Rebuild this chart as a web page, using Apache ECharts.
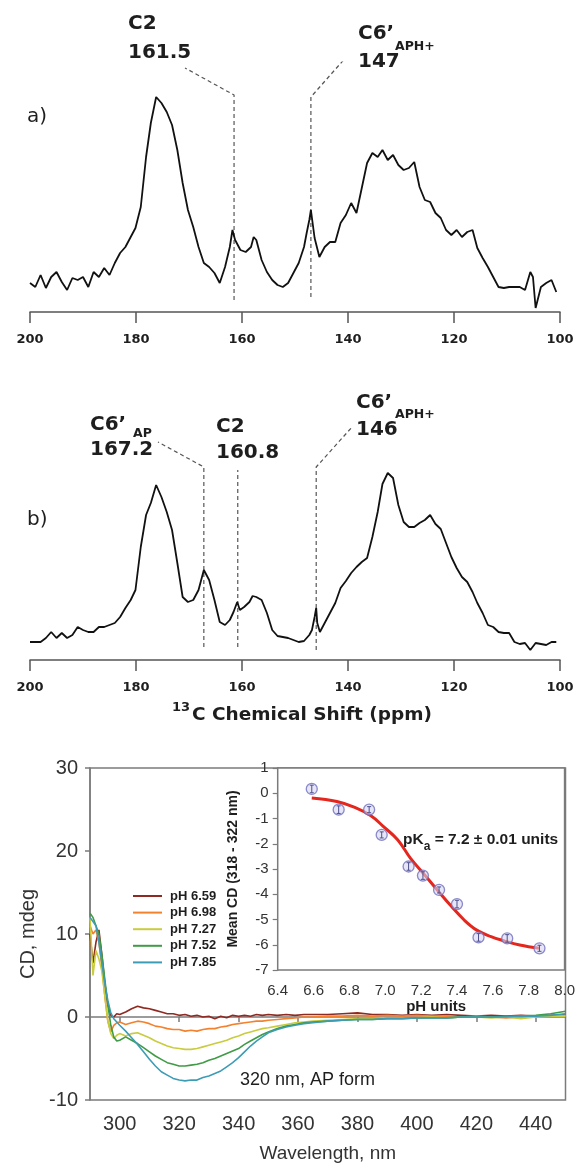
<!DOCTYPE html>
<html>
<head>
<meta charset="utf-8">
<title>13C NMR and CD titration</title>
<script src="https://cdn.jsdelivr.net/npm/echarts@6/dist/echarts.min.js"></script>
<style>
  html, body { margin: 0; padding: 0; background: #fff; }
  #chart { width: 578px; height: 1165px; }
</style>
</head>
<body>
<div id="chart"></div>
<script>
  // ---- a) 13C spectrum, ppm vs intensity (arbitrary units) ----
  var ppmA = [200, 199, 198, 197, 196, 195, 194, 193, 192, 191, 190, 189, 188, 187, 186, 185, 184, 183, 182, 181,
    180.1, 179.1, 178.1, 177.2, 176.2, 175.2, 174.2, 173.2, 172.2, 171.2, 170.2, 169.2, 168.2, 167.2, 166.2, 165.2,
    164.2, 163.2, 162.3, 161.8, 161.3, 160.3, 159.3, 158.3, 157.8, 157.3, 156.3, 155.3, 154.3, 153.3, 152.3, 151.3,
    150.3, 149.3, 148.3, 147.8, 147.3, 147.0, 146.6, 146.3, 145.4, 144.4, 143.4, 142.4, 141.4, 140.4, 139.4, 138.4,
    137.4, 136.4, 135.4, 134.4, 133.5, 132.5, 131.5, 130.5, 129.5, 128.5, 127.5, 126.5, 125.5, 124.5, 123.5, 122.5,
    121.5, 120.5, 119.5, 118.5, 117.5, 116.5, 115.6, 114.6, 113.6, 112.6, 111.6, 110.6, 109.6, 108.6, 107.6, 106.6,
    105.6, 105.1, 104.6, 103.6, 102.6, 101.6, 100.7]
  var intA = [29, 25, 37, 24, 35, 40, 30, 22, 34, 32, 35, 25, 40, 35, 44, 37, 49, 59, 65, 75,
    84, 105, 155, 189, 215, 209, 200, 187, 162, 129, 102, 85, 65, 49, 45, 39,
    29, 45, 65, 82, 72, 62, 60, 65, 75, 72, 52, 40, 32, 27, 25, 29,
    39, 49, 65, 79, 92, 102, 86, 74, 55, 65, 70, 70, 89, 97, 109, 99,
    124, 149, 159, 155, 162, 152, 157, 147, 142, 144, 150, 125, 112, 110, 99, 94,
    82, 77, 82, 75, 80, 82, 64, 54, 45, 35, 25, 24, 25, 25, 25, 22,
    40, 35, 4, 25, 29, 32, 20]

  // ---- b) 13C spectrum ----
  var ppmB = [200, 199, 198, 197, 196, 195, 194, 193, 192, 191, 190, 189, 188, 187, 186, 185, 184, 183, 182, 181,
    180.1, 179.1, 178.1, 177.2, 176.2, 175.2, 174.2, 173.2, 172.2, 171.2, 170.2, 169.2, 168.2, 167.2, 166.2, 165.2,
    164.2, 163.2, 162.3, 161.6, 160.9, 160.4, 159.6, 158.6, 158.0, 157.3, 156.3, 155.3, 154.3, 153.3, 152.3, 151.3,
    150.3, 149.3, 148.3, 147.3, 146.8, 146.3, 146.0, 145.8, 145.3, 144.4, 143.4, 142.4, 141.4, 140.4, 139.4, 138.4,
    137.4, 136.4, 135.4, 134.4, 133.5, 132.5, 131.5, 130.5, 129.5, 128.5, 127.5, 126.5, 125.5, 124.5, 123.5, 122.5,
    121.5, 120.5, 119.5, 118.5, 117.5, 116.5, 115.6, 114.6, 113.6, 112.6, 111.6, 110.6, 109.6, 108.6, 107.6, 106.6,
    105.6, 104.6, 103.6, 102.6, 101.6, 100.7]
  var intB = [18, 18, 18, 22, 28, 22, 27, 22, 25, 33, 30, 28, 28, 33, 33, 35, 37, 43, 52, 60,
    70, 113, 145, 157, 175, 163, 148, 130, 97, 63, 58, 60, 70, 90, 80, 60,
    38, 35, 40, 48, 58, 50, 53, 58, 64, 63, 60, 47, 30, 24, 23, 22,
    20, 18, 19, 25, 30, 43, 52, 37, 28, 37, 47, 57, 72, 79, 87, 93,
    98, 102, 123, 148, 176, 187, 182, 155, 138, 133, 133, 137, 140, 145, 136, 131,
    117, 103, 92, 83, 78, 68, 57, 47, 35, 33, 28, 27, 27, 18, 16, 17,
    10, 17, 16, 15, 18, 18]

  // peak labels: shift value, leader line heights (intensity units)
  var peaksA = [
    { name: 'C2', sub: '', ppm: 161.5, line: [[161.5, 12], [161.5, 217], [170.75, 244]] },
    { name: 'C6’', sub: 'APH+', ppm: 147, line: [[147, 15], [147, 215], [140.0, 257]] }
  ]
  var peaksB = [
    { name: 'C6’', sub: 'AP', ppm: 167.2, line: [[167.2, 13], [167.2, 193], [175.85, 218]] },
    { name: 'C2', sub: '', ppm: 160.8, line: [[160.8, 13], [160.8, 190]] },
    { name: 'C6’', sub: 'APH+', ppm: 146, line: [[146, 10], [146, 193], [139.4, 232]] }
  ]

  // ---- CD spectra, mdeg ----
  var wavelength = [290, 291, 292, 293, 294, 295, 296, 297, 298, 299, 300,
    302, 304, 306, 308, 310, 312, 314, 316, 318, 320, 322, 324, 326, 328, 330, 332, 334, 336, 338, 340,
    342, 344, 346, 348, 350, 353, 356, 359, 362, 365,
    370, 375, 380, 385, 390, 395, 400, 405, 410, 415, 420, 425, 430, 435, 440, 445, 450]
  var cdPh659 = [10.0, 6.5, 9.0, 10.5, 7.5, 4.0, 1.5, 0.2, 0.0, 0.4, 0.3,
    0.6, 1.0, 1.3, 1.1, 1.0, 0.8, 0.6, 0.4, 0.4, 0.2, 0.3, 0.1, 0.2, 0.0, 0.1, -0.2, 0.1, -0.1, 0.2, 0.1,
    0.2, 0.1, 0.3, 0.2, 0.3, 0.2, 0.3, 0.2, 0.3, 0.3,
    0.3, 0.4, 0.5, 0.3, 0.3, 0.2, 0.3, 0.2, 0.3, 0.2, 0.1, 0.2, 0.1, 0.2, 0.1, 0.2, 0.3]
  var cdPh698 = [11.0, 10.0, 10.5, 9.0, 6.0, 2.5, -0.5, -1.8, -1.0, -0.7, -0.6,
    -0.9, -0.7, -0.5, -0.6, -0.8, -1.1, -1.2, -1.4, -1.5, -1.5, -1.7, -1.6, -1.7, -1.5, -1.4, -1.4, -1.2, -1.1, -0.9, -0.8,
    -0.7, -0.6, -0.5, -0.5, -0.4, -0.3, -0.2, -0.1, 0.0, 0.0,
    0.1, 0.1, 0.2, 0.1, 0.2, 0.1, 0.2, 0.1, 0.1, 0.0, 0.1, 0.0, -0.1, 0.0, 0.1, 0.1, 0.2]
  var cdPh727 = [12.0, 5.0, 8.0, 7.0, 5.5, 2.5, -0.5, -2.0, -2.6, -2.2, -2.0,
    -2.3, -2.0, -1.9, -2.2, -2.5, -2.9, -3.2, -3.5, -3.7, -3.8, -3.9, -3.9, -3.8, -3.6, -3.4, -3.2, -3.0, -2.8, -2.5, -2.3,
    -2.0, -1.8, -1.6, -1.4, -1.3, -1.1, -0.9, -0.7, -0.6, -0.5,
    -0.4, -0.3, -0.2, -0.2, -0.1, -0.1, -0.1, 0.0, -0.1, 0.0, 0.0, -0.1, 0.0, -0.2, 0.0, 0.1, 0.1]
  var cdPh752 = [12.5, 12.0, 11.0, 10.0, 7.5, 4.5, 1.5, -1.0, -2.4, -2.9, -2.8,
    -2.4, -2.8, -3.2, -3.7, -4.2, -4.7, -5.1, -5.5, -5.7, -5.9, -5.9, -5.8, -5.7, -5.5, -5.2, -5.0, -4.7, -4.4, -4.1, -3.8,
    -3.3, -2.9, -2.5, -2.1, -1.8, -1.4, -1.1, -0.9, -0.7, -0.6,
    -0.5, -0.4, -0.3, -0.3, -0.2, -0.2, -0.1, -0.1, -0.1, 0.0, 0.0, 0.0, 0.1, 0.1, 0.2, 0.4, 0.7]
  var cdPh785 = [12.0, 11.5, 11.0, 9.0, 6.5, 4.0, 2.0, 0.5, -0.2, -0.6, -1.0,
    -1.7, -2.5, -3.3, -4.2, -5.1, -5.9, -6.6, -7.0, -7.4, -7.6, -7.7, -7.6, -7.6, -7.3, -7.1, -6.8, -6.5, -6.0, -5.5, -4.9,
    -4.2, -3.5, -2.9, -2.4, -1.9, -1.5, -1.2, -1.0, -0.8, -0.7,
    -0.5, -0.4, -0.3, -0.3, -0.2, -0.2, -0.1, -0.1, -0.1, 0.0, 0.0, 0.0, 0.0, 0.1, 0.1, 0.2, 0.4]
  var phNames = ['pH 6.59', 'pH 6.98', 'pH 7.27', 'pH 7.52', 'pH 7.85']
  var wlTicks = [300, 320, 340, 360, 380, 400, 420, 440]

  // ---- inset: mean CD (318-322 nm) vs pH ----
  var titrPh = [6.59, 6.74, 6.91, 6.98, 7.13, 7.21, 7.30, 7.40, 7.52, 7.68, 7.86]
  var titrCd = [0.17, -0.65, -0.65, -1.65, -2.90, -3.26, -3.83, -4.39, -5.71, -5.75, -6.14]
  var titrErr = [0.15, 0.15, 0.12, 0.12, 0.15, 0.15, 0.12, 0.15, 0.15, 0.15, 0.12]
  var fitPh = [6.59, 6.73, 6.83, 6.92, 6.99, 7.07, 7.14, 7.22, 7.29, 7.37, 7.44, 7.51, 7.59, 7.66, 7.75, 7.86]
  var fitCd = [-0.19, -0.33, -0.56, -0.89, -1.32, -1.85, -2.57, -3.24, -3.83, -4.49, -5.02, -5.42, -5.68, -5.84, -6.01, -6.14]

  var NMR_FONT = '"DejaVu Sans", Verdana, sans-serif'
  var CD_FONT = '"Liberation Sans", Arial, sans-serif'
  var INK = '#1e1e1e'
  var FRAME = '#7b7b7b'
  var CD_COLORS = ['#8e2a22', '#f3822f', '#c9cc3f', '#3f9b45', '#3d9cb5']

  function pairs(xs, ys) {
    return xs.map(function (x, i) { return [x, ys[i]] })
  }

  function txt(x, y, text, size, weight, family) {
    return {
      type: 'text', x: x, y: y, z: 100, silent: true,
      style: {
        text: text, fill: INK, fontSize: size, fontWeight: weight || 'normal',
        fontFamily: family || NMR_FONT, align: 'left', verticalAlign: 'middle'
      }
    }
  }

  // shared settings for the two ppm axes
  function ppmAxis(gridIndex) {
    return {
      gridIndex: gridIndex, type: 'value', inverse: true, min: 100, max: 200, interval: 20,
      axisLine: { lineStyle: { color: '#555', width: 1.5 } },
      axisTick: { length: 11, lineStyle: { color: '#555', width: 1.5 } },
      axisLabel: { margin: 21, fontFamily: NMR_FONT, fontWeight: 'bold', fontSize: 13, color: INK },
      splitLine: { show: false }
    }
  }

  function leader(gridIndex, p) {
    return {
      type: 'line', xAxisIndex: gridIndex, yAxisIndex: gridIndex, data: p.line,
      symbol: 'none', silent: true, z: 1,
      lineStyle: { color: '#555', width: 1.2, type: [4, 3] }
    }
  }

  var series = [
    {
      type: 'line', xAxisIndex: 0, yAxisIndex: 0, data: pairs(ppmA, intA), symbol: 'none',
      lineStyle: { color: '#111', width: 1.8 }
    },
    {
      type: 'line', xAxisIndex: 1, yAxisIndex: 1, data: pairs(ppmB, intB), symbol: 'none',
      lineStyle: { color: '#111', width: 1.8 }
    }
  ]
  peaksA.forEach(function (p) { series.push(leader(0, p)) })
  peaksB.forEach(function (p) { series.push(leader(1, p)) })

  var cdSets = [cdPh659, cdPh698, cdPh727, cdPh752, cdPh785]
  cdSets.forEach(function (vals, i) {
    series.push({
      name: phNames[i], type: 'line', xAxisIndex: 2, yAxisIndex: 2,
      data: pairs(wavelength, vals), symbol: 'none', color: CD_COLORS[i],
      lineStyle: { color: CD_COLORS[i], width: 1.6 }
    })
  })

  // inset: fit curve, error bars, points
  series.push({
    type: 'line', xAxisIndex: 3, yAxisIndex: 3, data: pairs(fitPh, fitCd), symbol: 'none',
    smooth: 0.4, lineStyle: { color: '#e5261c', width: 3 }, z: 3
  })
  series.push({
    type: 'scatter', xAxisIndex: 3, yAxisIndex: 3, data: pairs(titrPh, titrCd),
    symbol: 'circle', symbolSize: 11, z: 4,
    itemStyle: { color: 'rgba(214,214,240,0.75)', borderColor: '#6f6fbf', borderWidth: 1.3 }
  })
  series.push({
    type: 'custom', xAxisIndex: 3, yAxisIndex: 3, z: 5,
    data: titrPh.map(function (ph, i) { return [ph, titrCd[i] - titrErr[i], titrCd[i] + titrErr[i]] }),
    encode: { x: 0, y: [1, 2] },
    renderItem: function (params, api) {
      var top = api.coord([api.value(0), api.value(2)])
      var bot = api.coord([api.value(0), api.value(1)])
      var st = { stroke: '#4f4f8f', lineWidth: 1 }
      return {
        type: 'group', children: [
          { type: 'line', shape: { x1: top[0], y1: top[1], x2: bot[0], y2: bot[1] }, style: st },
          { type: 'line', shape: { x1: top[0] - 2, y1: top[1], x2: top[0] + 2, y2: top[1] }, style: st },
          { type: 'line', shape: { x1: bot[0] - 2, y1: bot[1], x2: bot[0] + 2, y2: bot[1] }, style: st }
        ]
      }
    }
  })

  // text annotations
  var graphics = [
    txt(27, 117, 'a)', 20),
    txt(27, 520, 'b)', 20),
    // panel a labels
    txt(128, 24, peaksA[0].name, 20, 'bold'),
    txt(128, 53, '161.5', 20, 'bold'),
    txt(358, 34, peaksA[1].name, 20, 'bold'),
    txt(395, 47, peaksA[1].sub, 12.5, 'bold'),
    txt(358, 62, '147', 20, 'bold'),
    // panel b labels
    txt(90, 425, peaksB[0].name, 20, 'bold'),
    txt(133, 434, peaksB[0].sub, 12.5, 'bold'),
    txt(90, 450, '167.2', 20, 'bold'),
    txt(216, 427, peaksB[1].name, 20, 'bold'),
    txt(216, 453, '160.8', 20, 'bold'),
    txt(356, 403, peaksB[2].name, 20, 'bold'),
    txt(395, 415, peaksB[2].sub, 12.5, 'bold'),
    txt(356, 430, '146', 20, 'bold'),
    // shared ppm axis title
    txt(172, 708, '13', 13, 'bold'),
    txt(192, 715, 'C Chemical Shift (ppm)', 18.5, 'bold'),
    // CD annotations
    txt(240, 1080, '320 nm, AP form', 18, 'normal', CD_FONT),
    {
      type: 'text', x: 403, y: 840, z: 100, silent: true,
      style: {
        text: '{b|pK}{s|a}{b| = 7.2 ± 0.01 units}', align: 'left', verticalAlign: 'middle',
        rich: {
          b: { fontSize: 15.5, fontWeight: 'bold', fontFamily: CD_FONT, fill: INK, lineHeight: 26, verticalAlign: 'middle' },
          s: { fontSize: 12, fontWeight: 'bold', fontFamily: CD_FONT, fill: INK, lineHeight: 26, verticalAlign: 'bottom' }
        }
      }
    }
  ]

  var chart = echarts.init(document.getElementById('chart'))
  chart.setOption({
    backgroundColor: '#fff',
    animation: false,
    grid: [
      { left: 30, top: 62, width: 530, height: 250 },
      { left: 30, top: 410, width: 530, height: 250 },
      { left: 90, top: 768, width: 475.5, height: 332, show: true, borderColor: FRAME, borderWidth: 1.5, backgroundColor: 'transparent' },
      { left: 277.7, top: 768, width: 287.8, height: 202, show: true, borderColor: FRAME, borderWidth: 1.5, backgroundColor: '#fff', z: 3 }
    ],
    xAxis: [
      ppmAxis(0),
      ppmAxis(1),
      {
        gridIndex: 2, type: 'value', min: 290, max: 450,
        axisLine: { lineStyle: { color: FRAME, width: 1.5 } },
        axisTick: { length: 5, customValues: wlTicks, lineStyle: { color: FRAME, width: 1.5 } },
        axisLabel: { customValues: wlTicks, margin: 14, fontFamily: CD_FONT, fontSize: 20, color: '#333' },
        splitLine: { show: false },
        name: 'Wavelength, nm', nameLocation: 'middle', nameGap: 44,
        nameTextStyle: { fontFamily: CD_FONT, fontSize: 19, color: '#333' }
      },
      {
        gridIndex: 3, type: 'value', min: 6.4, max: 8.0, interval: 0.2,
        axisLine: { lineStyle: { color: FRAME, width: 1.5 } },
        axisTick: { length: 4, lineStyle: { color: FRAME, width: 1.2 } },
        axisLabel: {
          margin: 13, fontFamily: CD_FONT, fontSize: 15, color: '#333',
          formatter: function (v) { return v.toFixed(1) }
        },
        splitLine: { show: false },
        name: 'pH units', nameLocation: 'middle', nameGap: 29,
        nameTextStyle: { fontFamily: CD_FONT, fontSize: 15, fontWeight: 'bold', color: INK, padding: [0, 0, 0, 30] }
      }
    ],
    yAxis: [
      { gridIndex: 0, type: 'value', min: 0, max: 250, show: false },
      { gridIndex: 1, type: 'value', min: 0, max: 250, show: false },
      {
        gridIndex: 2, type: 'value', min: -10, max: 30, interval: 10,
        axisLine: { show: true, lineStyle: { color: FRAME, width: 1.5 } },
        axisTick: { show: true, length: 5, lineStyle: { color: FRAME, width: 1.5 } },
        axisLabel: { margin: 12, fontFamily: CD_FONT, fontSize: 20, color: '#333' },
        splitLine: { show: false },
        name: 'CD, mdeg', nameLocation: 'middle', nameRotate: 90, nameGap: 50,
        nameTextStyle: { fontFamily: CD_FONT, fontSize: 20, color: '#333' }
      },
      {
        gridIndex: 3, type: 'value', min: -7, max: 1, interval: 1,
        axisLine: { show: true, lineStyle: { color: FRAME, width: 1.5 } },
        axisTick: { show: true, length: 5, lineStyle: { color: FRAME, width: 1.2 } },
        axisLabel: { margin: 9, fontFamily: CD_FONT, fontSize: 15, color: '#333' },
        splitLine: { show: false },
        name: 'Mean CD (318 - 322 nm)', nameLocation: 'middle', nameRotate: 90, nameGap: 38,
        nameTextStyle: { fontFamily: CD_FONT, fontSize: 14, fontWeight: 'bold', color: INK }
      }
    ],
    legend: {
      data: phNames, orient: 'vertical', left: 128, top: 884,
      itemWidth: 29, itemHeight: 2, itemGap: 2.6, icon: 'rect',
      textStyle: { fontFamily: CD_FONT, fontSize: 13, fontWeight: 'bold', color: INK, lineHeight: 14, padding: [0, 0, 0, 3] }
    },
    graphic: { elements: graphics },
    series: series
  })
</script>
</body>
</html>
